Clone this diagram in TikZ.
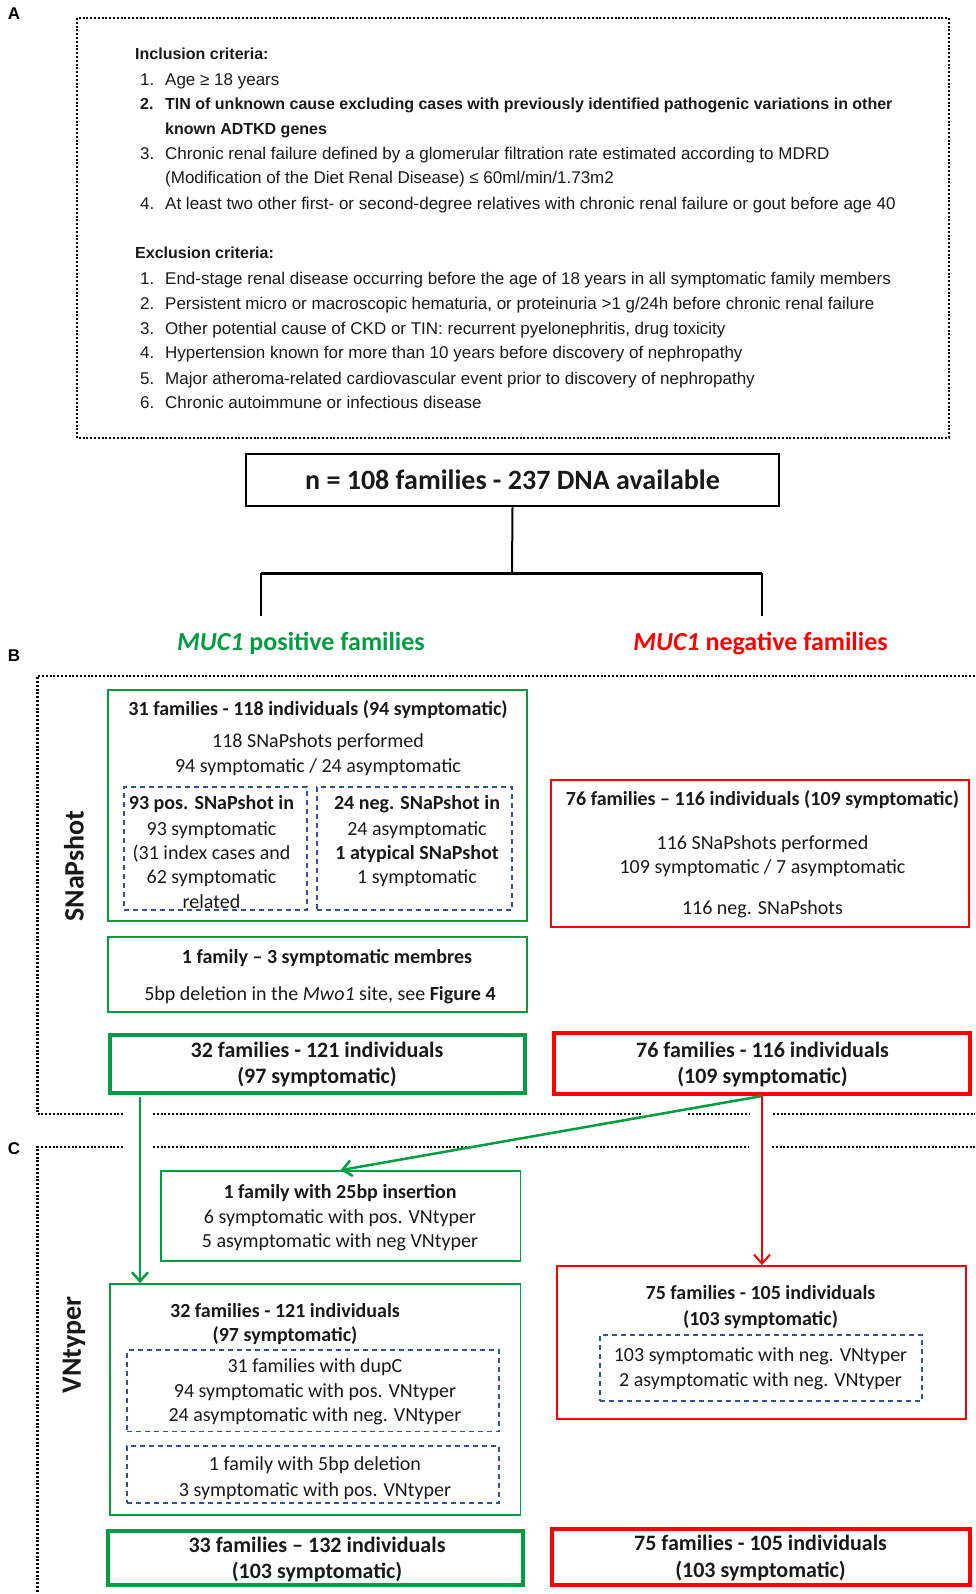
\documentclass[tikz,border=0pt]{standalone}
\usepackage{fontspec}
\setmainfont{Carlito}
\newfontfamily\fA{Liberation Sans}
\usetikzlibrary{arrows.meta}
\definecolor{mgreen}{RGB}{0,158,64}
\definecolor{mred}{RGB}{255,0,0}
\definecolor{mblue}{RGB}{47,85,151}
\definecolor{ink}{RGB}{25,25,25}
\begin{document}
\begin{tikzpicture}[x=1pt,y=-1pt,
  gbox/.style={draw=mgreen, line width=1.8pt, inner sep=0},
  gthick/.style={draw=mgreen, line width=4pt, inner sep=0},
  rbox/.style={draw=mred, line width=1.8pt, inner sep=0},
  rthick/.style={draw=mred, line width=4pt, inner sep=0},
  kbox/.style={draw=black, line width=2.5pt, inner sep=0},
  dbox/.style={draw=mblue, line width=1.5pt, dash pattern=on 5pt off 4pt, inner sep=0},
  dots/.style={line width=2.1pt, dash pattern=on 2pt off 1.8pt},
  ta/.style={font=\fA\fontsize{17}{20}\selectfont, anchor=base west, inner sep=0, text=ink},
  tab/.style={ta, font=\fA\bfseries\fontsize{16}{20}\selectfont},
  lab/.style={font=\fA\bfseries\fontsize{17}{20}\selectfont, inner sep=0},
  tx/.style={font=\fontsize{20}{24}\selectfont, anchor=base, inner sep=0, text=ink},
  txb/.style={tx, font=\bfseries\fontsize{20}{24}\selectfont},
  tk/.style={font=\bfseries\fontsize{22}{26}\selectfont, anchor=base, inner sep=0, text=ink},
  rot/.style={font=\bfseries\fontsize{28}{32}\selectfont, rotate=90, inner sep=0, text=ink},
  gline/.style={draw=mgreen, line width=2.5pt},
  rline/.style={draw=mred, line width=2pt},
  tip/.style={-{Straight Barb[length=9pt,width=16pt]}}
]
\useasboundingbox (0,0) rectangle (975,1594);

% ---------- Panel A ----------
\node[lab] (labA) at (14,14) {A};
\draw[dots] (77,18) rectangle (949,438);
\node[tab] (inc) at (135,60) {Inclusion criteria:};
\node[ta] (i1n) at (140,85.3) {1.};
\node[ta] (i1) at (165,85.3) {Age ≥ 18 years};
\node[tab] (i2n) at (140,109.7) {2.};
\node[tab] (i2) at (165,109.7) {TIN of unknown cause excluding cases with previously identified pathogenic variations in other};
\node[tab] (i2b) at (165,134.1) {known ADTKD genes};
\node[ta] (i3n) at (140,159.5) {3.};
\node[ta] (i3) at (165,159.5) {Chronic renal failure defined by a glomerular filtration rate estimated according to MDRD};
\node[ta] (i3b) at (165,183.9) {(Modification of the Diet Renal Disease) ≤ 60ml/min/1.73m2};
\node[ta] (i4n) at (140,209.3) {4.};
\node[ta] (i4) at (165,209.3) {At least two other first- or second-degree relatives with chronic renal failure or gout before age 40};
\node[tab] (exc) at (135,259) {Exclusion criteria:};
\node[ta] (e1n) at (140,284.6) {1.};
\node[ta] (e1) at (165,284.6) {End-stage renal disease occurring before the age of 18 years in all symptomatic family members};
\node[ta] (e2n) at (140,309) {2.};
\node[ta] (e2) at (165,309) {Persistent micro or macroscopic hematuria, or proteinuria >1 g/24h before chronic renal failure};
\node[ta] (e3n) at (140,334.4) {3.};
\node[ta] (e3) at (165,334.4) {Other potential cause of CKD or TIN: recurrent pyelonephritis, drug toxicity};
\node[ta] (e4n) at (140,358.8) {4.};
\node[ta] (e4) at (165,358.8) {Hypertension known for more than 10 years before discovery of nephropathy};
\node[ta] (e5n) at (140,384.2) {5.};
\node[ta] (e5) at (165,384.2) {Major atheroma-related cardiovascular event prior to discovery of nephropathy};
\node[ta] (e6n) at (140,408.6) {6.};
\node[ta] (e6) at (165,408.6) {Chronic autoimmune or infectious disease};

% ---------- Head ----------
\node[kbox, minimum width=533pt, minimum height=52pt] (head) at (512.5,480) {};
\node[tx, font=\bfseries\fontsize{28}{32}\selectfont] (headt) at (512.5,489) {n = 108 families - 237 DNA available};
\coordinate (tj) at (512,573);
\coordinate (tl) at (261,573);
\coordinate (tr) at (762,573);
\coordinate (tle) at (261,616);
\coordinate (tre) at (762,616);
\draw[line width=2pt] (head.south) -- (tj);
\draw[line width=3pt] (tl) -- (tr);
\draw[line width=2pt] (tl) -- (tle);
\draw[line width=2pt] (tr) -- (tre);
\node[tx, font=\bfseries\fontsize{26}{30}\selectfont, text=mgreen] (pos) at (301,650) {\textit{MUC1} positive families};
\node[tx, font=\bfseries\fontsize{26}{30}\selectfont, text=mred] (neg) at (760.5,650) {\textit{MUC1} negative families};

% ---------- Panel B ----------
\node[lab] (labB) at (14,656) {B};
\draw[dots] (975,676) -- (37.5,676) -- (37.5,1114) -- (123,1114);
\draw[dots] (153,1114) -- (643,1114);
\draw[dots] (688,1114) -- (750,1114);
\draw[dots] (773,1114) -- (975,1114);
\node[rot] (snap) at (74,866) {SNaPshot};

\node[gbox, minimum width=419pt, minimum height=231pt] (gb1) at (317.5,805.5) {};
\node[txb] (gb1t) at (318,715.6) {31 families - 118 individuals (94 symptomatic)};
\node[tx] (gb1a) at (318,747.6) {118 SNaPshots performed};
\node[tx] (gb1b) at (318,772) {94 symptomatic / 24 asymptomatic};
\node[dbox, minimum width=183pt, minimum height=123pt] (db1) at (215.5,848.5) {};
\node[txb] (db1a) at (211.5,809.6) {93 pos. SNaPshot in};
\node[tx] (db1b) at (211.5,835.1) {93 symptomatic};
\node[tx] (db1c) at (211.5,859.6) {(31 index cases and};
\node[tx] (db1d) at (211.5,883.6) {62 symptomatic};
\node[tx] (db1e) at (211.5,908.6) {related};
\node[dbox, minimum width=195pt, minimum height=123pt] (db2) at (414.5,848.5) {};
\node[txb] (db2a) at (417,809.6) {24 neg. SNaPshot in};
\node[tx] (db2b) at (417,835.1) {24 asymptomatic};
\node[txb] (db2c) at (417,859.6) {1 atypical SNaPshot};
\node[tx] (db2d) at (417,883.6) {1 symptomatic};

\node[gbox, minimum width=419pt, minimum height=75pt] (gb2) at (317.5,974.5) {};
\node[txb] (gb2a) at (327,963.6) {1 family – 3 symptomatic membres};
\node[tx] (gb2b) at (320,1000.6) {5bp deletion in the \textit{Mwo1} site, see \textbf{Figure 4}};

\node[gthick, minimum width=415pt, minimum height=58pt] (gb3) at (317.5,1064) {};
\node[tk] (gb3a) at (317,1057.3) {32 families - 121 individuals};
\node[tk] (gb3b) at (317,1083.3) {(97 symptomatic)};

\node[rbox, minimum width=418pt, minimum height=147pt] (rb1) at (760,853.5) {};
\node[txb] (rb1t) at (762.5,805.6) {76 families – 116 individuals (109 symptomatic)};
\node[tx] (rb1a) at (762.5,849.6) {116 SNaPshots performed};
\node[tx] (rb1b) at (762.5,873.6) {109 symptomatic / 7 asymptomatic};
\node[tx] (rb1c) at (762.5,914.6) {116 neg. SNaPshots};

\node[rthick, minimum width=416pt, minimum height=61pt] (rb2) at (762,1063.5) {};
\node[tk] (rb2a) at (762.5,1057.3) {76 families - 116 individuals};
\node[tk] (rb2b) at (762.5,1083.3) {(109 symptomatic)};

% ---------- Panel C ----------
\node[lab] (labC) at (14,1149) {C};
\draw[dots] (123,1147) -- (37.5,1147) -- (37.5,1594);
\draw[dots] (153,1147) -- (468,1147);
\draw[dots] (516,1147) -- (748,1147);
\draw[dots] (772,1147) -- (975,1147);
\node[rot] (vnt) at (74,1345) {VNtyper};

\node[gbox, minimum width=359.5pt, minimum height=90pt] (gc1) at (340.75,1216) {};
\node[txb] (gc1a) at (340,1198.1) {1 family with 25bp insertion};
\node[tx] (gc1b) at (340,1223.6) {6 symptomatic with pos. VNtyper};
\node[tx] (gc1c) at (340,1247.6) {5 asymptomatic with neg VNtyper};

\node[gbox, minimum width=410.5pt, minimum height=231pt] (gc2) at (315.25,1399.5) {};
\node[txb] (gc2a) at (285,1317.1) {32 families - 121 individuals};
\node[txb] (gc2b) at (285,1341.6) {(97 symptomatic)};
\node[dbox, minimum width=372pt, minimum height=81.5pt] (dc1) at (313,1390.75) {};
\node[tx] (dc1a) at (315,1372.1) {31 families with dupC};
\node[tx] (dc1b) at (315,1397.6) {94 symptomatic with pos. VNtyper};
\node[tx] (dc1c) at (315,1421.6) {24 asymptomatic with neg. VNtyper};
\node[dbox, minimum width=372pt, minimum height=57pt] (dc2) at (313,1474.5) {};
\node[tx] (dc2a) at (315,1470.6) {1 family with 5bp deletion};
\node[tx] (dc2b) at (315,1496.1) {3 symptomatic with pos. VNtyper};

\node[gthick, minimum width=414.5pt, minimum height=54pt] (gc3) at (315.25,1558) {};
\node[tk] (gc3a) at (317,1552.8) {33 families – 132 individuals};
\node[tk] (gc3b) at (317,1578.3) {(103 symptomatic)};

\node[rbox, minimum width=409pt, minimum height=153pt] (rc1) at (761.5,1342.5) {};
\node[txb] (rc1a) at (760.5,1299.6) {75 families - 105 individuals};
\node[txb] (rc1b) at (760.5,1325.1) {(103 symptomatic)};
\node[dbox, minimum width=322pt, minimum height=66pt] (dr1) at (761,1368) {};
\node[tx] (dr1a) at (760.5,1361.6) {103 symptomatic with neg. VNtyper};
\node[tx] (dr1b) at (760.5,1386.6) {2 asymptomatic with neg. VNtyper};

\node[rthick, minimum width=418pt, minimum height=56pt] (rc2) at (761,1557) {};
\node[tk] (rc2a) at (760.5,1550.3) {75 families - 105 individuals};
\node[tk] (rc2b) at (760.5,1577.3) {(103 symptomatic)};

% ---------- connectors ----------
\coordinate (g1) at (140,1097);
\draw[gline, tip] (g1) -- (g1 |- gc2.north);
\draw[gline, tip] (rb2.south) -- (gc1.north);
\draw[rline, tip] (rb2.south) -- (rb2.south |- rc1.north);
\end{tikzpicture}
\end{document}
